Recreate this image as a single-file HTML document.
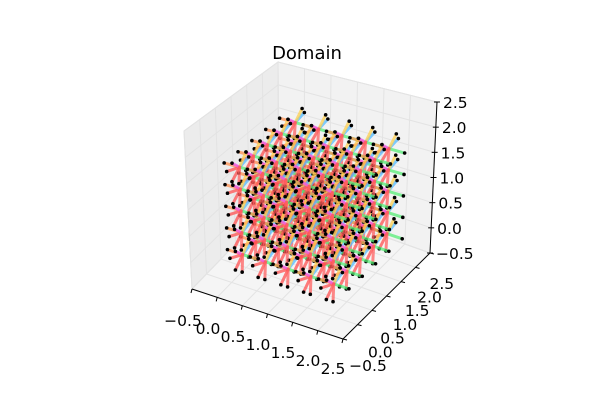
<!DOCTYPE html>
<html><head><meta charset="utf-8"><style>
body{margin:0;background:#fff;}
svg{display:block;font-family:"DejaVu Sans","Liberation Sans",sans-serif;}
</style></head><body>
<svg id="chart" width="600" height="400" viewBox="0 0 600 400" xmlns="http://www.w3.org/2000/svg">
<rect width="600" height="400" fill="#fff"/>
<text x="307" y="59" font-size="18" text-anchor="middle">Domain</text>
<g id="panes"></g><g id="grid"></g><g id="axes"></g><g id="marks"></g>
</svg>
<script>
const xTicks=["−0.5","0.0","0.5","1.0","1.5","2.0","2.5"];
const yTicks=["−0.5","0.0","0.5","1.0","1.5","2.0","2.5"];
const zTicks=["−0.5","0.0","0.5","1.0","1.5","2.0","2.5"];
const tickVals=[-0.5,0,0.5,1,1.5,2,2.5];
const nodeX=[0.15,0.6,1.05,1.5,1.95];
const nodeY=[0.15,0.6,1.05,1.5,1.95];
const nodeZ=[0.0,0.42,0.84,1.26,1.68];
const dirs=[[-1,0,-0.6],[0,-1,-0.6],[0.5,-1,-0.9],[-1,0,0],[0,-1,0.8],[1,0,0],[0.3,0.3,1],[0,1,0.2]];
const dirColors=["#ff5050","#ff5050","#ff6060","#ff9050","#ee55ee","#55ee77","#ffd050","#55bbff"];
const segLen=0.3;
const NS="http://www.w3.org/2000/svg";
const C={"000":[192,289],"100":[343,339],"110":[430,253],"010":[279,199],
"001":[184,131],"101":[339,170],"111":[437,102],"011":[278,62]};
function lerp(a,b,t){return [a[0]+(b[0]-a[0])*t,a[1]+(b[1]-a[1])*t];}
function P(x,y,z){const u=(x+0.5)/3,v=(y+0.5)/3,w=(z+0.5)/3;
const a=lerp(C["000"],C["100"],u),b=lerp(C["010"],C["110"],u),c=lerp(C["001"],C["101"],u),d=lerp(C["011"],C["111"],u);
return lerp(lerp(a,b,v),lerp(c,d,v),w);}
function mk(tag,at,parent,name){const e=document.createElementNS(NS,tag);for(const k in at)e.setAttribute(k,at[k]);


parent.appendChild(e);return e;}
const panes=document.getElementById('panes'),grid=document.getElementById('grid'),axes=document.getElementById('axes'),marks=document.getElementById('marks');
function poly(pts){return pts.map(p=>p.join(',')).join(' ');}
const L=-0.5,H=2.5;
mk('polygon',{points:poly([P(L,L,L),P(L,H,L),P(L,H,H),P(L,L,H)]),fill:'#ececec',stroke:'#e0e0e0'},panes,'left-pane');
mk('polygon',{points:poly([P(L,H,L),P(H,H,L),P(H,H,H),P(L,H,H)]),fill:'#f2f2f2',stroke:'#e0e0e0'},panes,'back-pane');
mk('polygon',{points:poly([P(L,L,L),P(H,L,L),P(H,H,L),P(L,H,L)]),fill:'#f5f5f5',stroke:'#e0e0e0'},panes,'floor-pane');
tickVals.forEach(t=>{
  const g='#e3e3e3';
  let a=P(t,L,L),b=P(t,H,L),c=P(t,H,H);mk('polyline',{points:poly([a,b,c]),fill:'none',stroke:g,'stroke-width':1},grid,'x-gridline');
  a=P(L,t,L);b=P(H,t,L);mk('line',{x1:a[0],y1:a[1],x2:b[0],y2:b[1],stroke:g},grid,'y-gridline');
  a=P(L,t,L);b=P(L,t,H);mk('line',{x1:a[0],y1:a[1],x2:b[0],y2:b[1],stroke:g},grid,'y-gridline-wall');
  a=P(L,L,t);b=P(L,H,t);c=P(H,H,t);mk('polyline',{points:poly([a,b,c]),fill:'none',stroke:g},grid,'z-gridline');
});
let a=P(L,L,L),b=P(H,L,L);mk('line',{x1:a[0],y1:a[1],x2:b[0],y2:b[1],stroke:'#000'},axes,'x-axis-line');
a=P(H,L,L);b=P(H,H,L);mk('line',{x1:a[0],y1:a[1],x2:b[0],y2:b[1],stroke:'#000'},axes,'y-axis-line');
a=P(H,H,L);b=P(H,H,H);mk('line',{x1:a[0],y1:a[1],x2:b[0],y2:b[1],stroke:'#000'},axes,'z-axis-line');
tickVals.forEach((t,i)=>{
  let p=P(t,L,L);mk('line',{x1:p[0],y1:p[1],x2:p[0]-1,y2:p[1]+4,stroke:'#000'},axes,'x-tick');
  let tx=mk('text',{x:183+i*25,y:326+i*8,'font-size':15.5,'text-anchor':'middle'},axes,'x-tick-label');tx.textContent=xTicks[i];
  p=P(H,t,L);mk('line',{x1:p[0],y1:p[1],x2:p[0]+4,y2:p[1]+1,stroke:'#000'},axes,'y-tick');
  tx=mk('text',{x:368+i*12.3,y:371-i*13.7,'font-size':15.5,'text-anchor':'middle'},axes,'y-tick-label');tx.textContent=yTicks[i];
  p=P(H,H,t);mk('line',{x1:p[0]-3,y1:p[1],x2:p[0]+3,y2:p[1],stroke:'#000'},axes,'z-tick');
  tx=mk('text',{x:p[0]+6,y:p[1]+6,'font-size':15.5},axes,'z-tick-label');tx.textContent=zTicks[i];
});
const segs=[];
nodeX.forEach(x=>nodeY.forEach(y=>nodeZ.forEach(z=>{
  dirs.forEach((d,k)=>{
    const n=Math.hypot(d[0],d[1],d[2]);
    const ex=x+d[0]/n*segLen,ey=y+d[1]/n*segLen,ez=z+d[2]/n*segLen;
    segs.push({s:[x,y,z],e:[ex,ey,ez],c:dirColors[k],depth:((y+ey)/2)*0.87-((x+ex)/2)*0.5});
  });
})));
segs.sort((p,q)=>q.depth-p.depth);
segs.forEach(sg=>{
  const p=P(...sg.s),q=P(...sg.e);
  mk('line',{x1:p[0],y1:p[1],x2:q[0],y2:q[1],stroke:sg.c,'stroke-width':3,'stroke-opacity':0.75,'stroke-linecap':'round'},marks,'direction-segment');
  mk('circle',{cx:q[0],cy:q[1],r:1.8,fill:'#000'},marks,'segment-endpoint');
});
</script>
</body></html>
